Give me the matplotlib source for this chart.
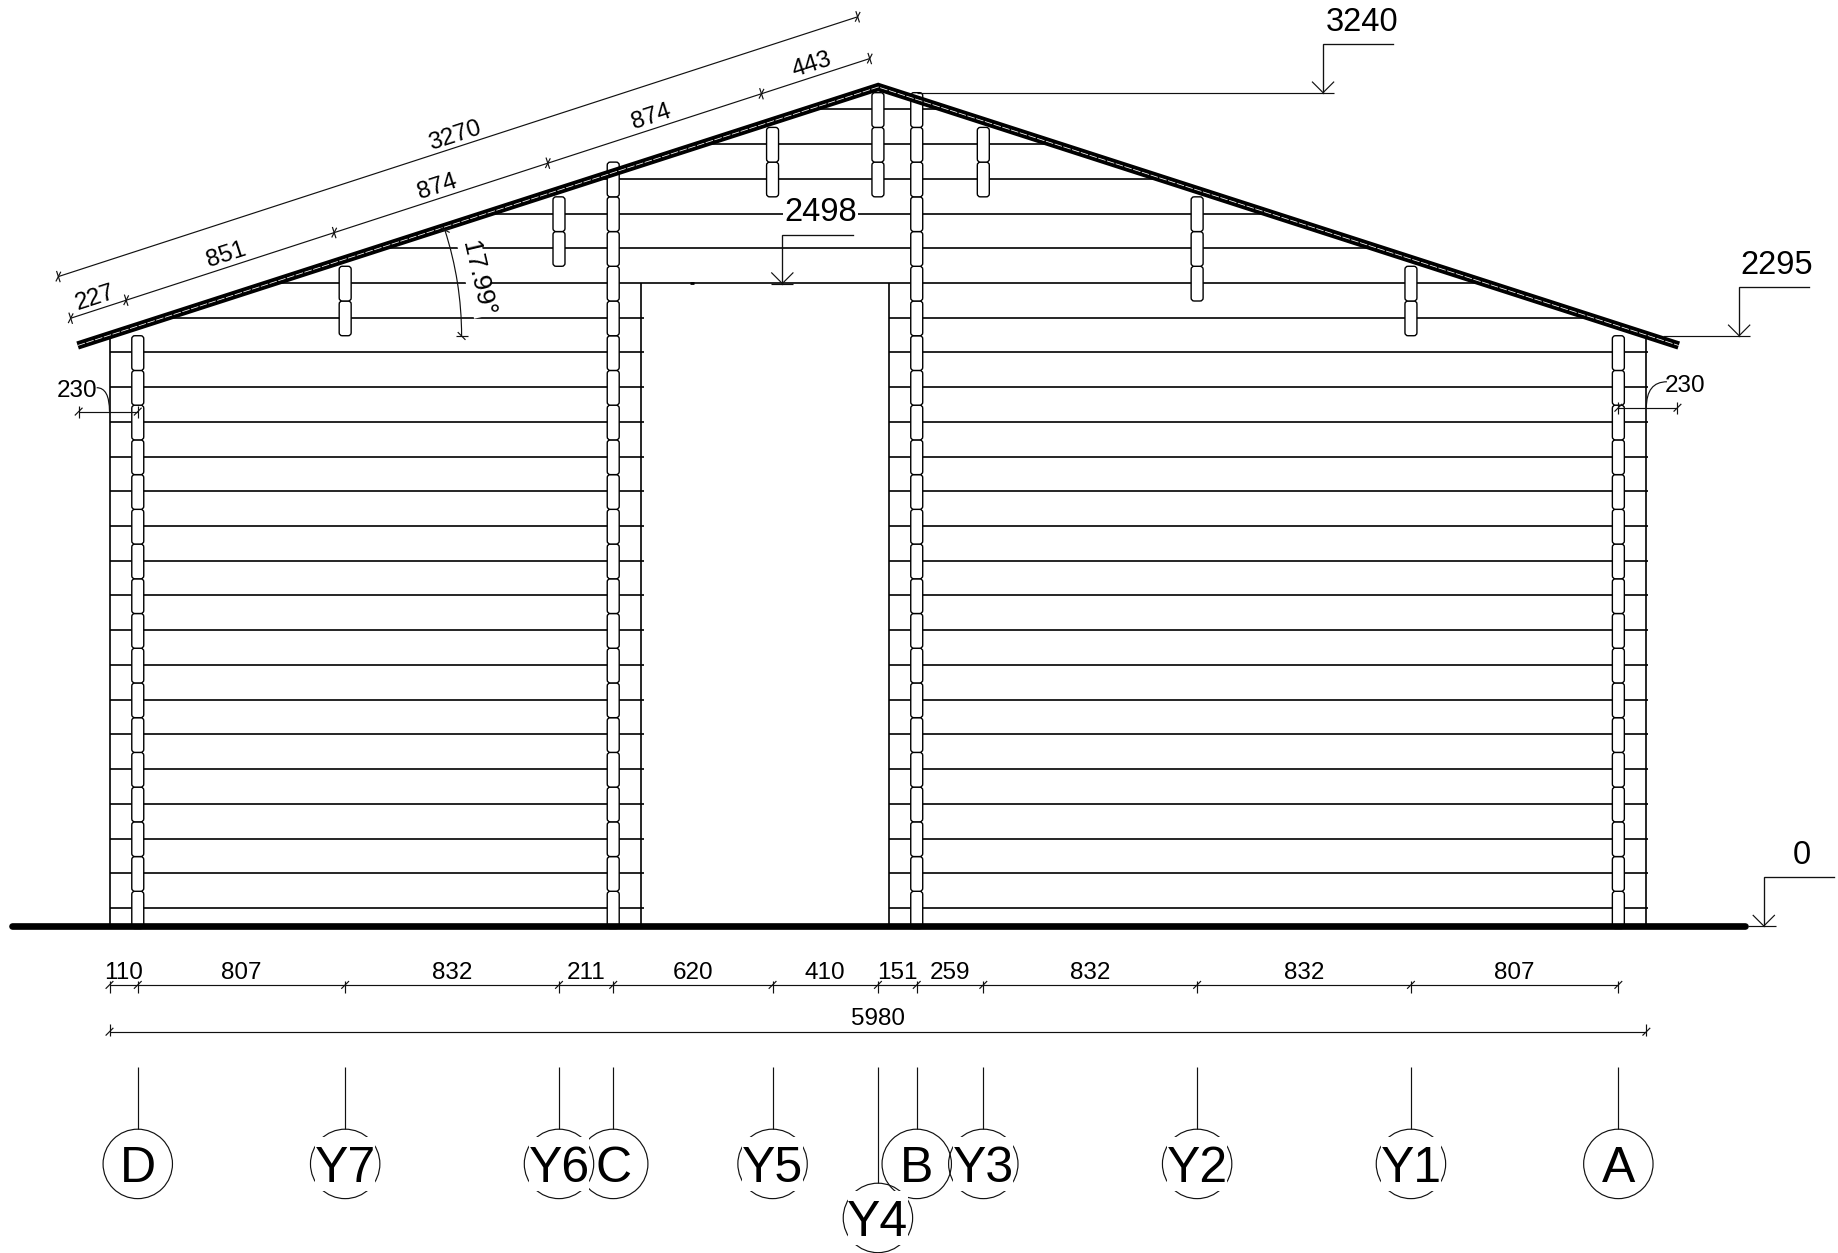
import numpy as np
import matplotlib
matplotlib.use("Agg")
import matplotlib.pyplot as plt
from matplotlib.patches import Arc, Circle, FancyBboxPatch, PathPatch, Polygon, Rectangle
from matplotlib.path import Path

# everything below is in drawing millimetres
SCALE_X = 0.2570  # px per mm
SCALE_Y = 0.2572
ORIGIN_X = 109.5
ORIGIN_Y = 926

# bottom dimension chain, left to right
GRID_DIMS = [110, 807, 832, 211, 620, 410, 151, 259, 832, 832, 807]
GRID_NAMES = ["D", "Y7", "Y6", "C", "Y5", "Y4", "B", "Y3", "Y2", "Y1", "A"]
OVERALL_WIDTH = 5980

# rake dimension chain
RAKE_DIMS = [227, 851, 874, 874, 443]
RAKE_TOTAL = 3270
RAKE_ANGLE = 17.99

# log course lines
COURSE_Y = [70, 205, 340, 475, 610, 745, 880, 1015, 1150, 1285, 1420, 1555,
            1690, 1825, 1960, 2095, 2230, 2365, 2500, 2635, 2770, 2905, 3040, 3175]

# log ends per grid line: (bottom, top)
LOG_STACKS = {
    "D": (0, 2295), "A": (0, 2295), "C": (0, 2970), "B": (0, 3240),
    "Y7": (2295, 2565), "Y6": (2565, 2835), "Y5": (2835, 3105), "Y4": (2835, 3240),
    "Y3": (2835, 3105), "Y2": (2430, 2835), "Y1": (2295, 2565),
}
LOG_BREAKS = [135, 270, 405, 540, 675, 810, 945, 1080, 1215, 1350, 1485, 1620,
              1755, 1890, 2025, 2160, 2295, 2430, 2565, 2700, 2835, 2970, 3105, 3240]

# roof centre line
ROOF_X = [-124, 2991, 6106]
ROOF_Y = [2257, 3262, 2257]

DOOR_LEFT = 2070
DOOR_RIGHT = 3033
DOOR_HEAD = 2498

# level marks: label, level, arrow x, line start, line end, top line end, text x
LEVELS = [
    ("3240", 3240, 4722, 3141, 4765, 4994, 4873),
    ("2498", 2498, 2618, 2575, 2661, 2892, 2767),
    ("2295", 2295, 6341, 6045, 6383, 6613, 6488),
    ("0", 0, 6437, 6375, 6483, 6710, 6585),
]

DIM_FONT = ["Liberation Sans Narrow", "Liberation Sans"]
LABEL_FONT = ["Liberation Sans"]

fig = plt.figure(figsize=(18.38, 12.53), dpi=100)
ax = fig.add_axes([0, 0, 1, 1])
ax.set_xlim(-ORIGIN_X / SCALE_X, (1838 - ORIGIN_X) / SCALE_X)
ax.set_ylim((ORIGIN_Y - 1253) / SCALE_Y, ORIGIN_Y / SCALE_Y)
ax.axis("off")

grid_x = dict(zip(GRID_NAMES, np.cumsum(GRID_DIMS)))

THIN = dict(color="#111111", lw=0.85, solid_capstyle="butt", zorder=6)
WALL = dict(color="black", lw=1.2, solid_capstyle="butt", zorder=2)

# wall outline, used to cut course lines at the roof
outline = Polygon([(-15, 0), (-15, 2296), (ROOF_X[1], ROOF_Y[1]), (OVERALL_WIDTH + 15, 2296),
                   (OVERALL_WIDTH + 15, 0)], closed=True, transform=ax.transData)


def wall_line(xs, ys):
    line, = ax.plot(xs, ys, **WALL)
    line.set_clip_path(outline)


for y in COURSE_Y:
    if y < DOOR_HEAD:
        wall_line([0, DOOR_LEFT + 10], [y, y])
        wall_line([DOOR_RIGHT, OVERALL_WIDTH + 5], [y, y])
    else:
        wall_line([0, OVERALL_WIDTH], [y, y])

wall_line([0, 0], [0, 2600])
wall_line([OVERALL_WIDTH, OVERALL_WIDTH], [0, 2600])
ax.plot([DOOR_LEFT, DOOR_LEFT], [0, 2500], **WALL)
ax.plot([DOOR_RIGHT, DOOR_RIGHT], [0, 2500], **WALL)
ax.plot([2258, 2274], [2500, 2500], color="black", lw=2, solid_capstyle="butt", zorder=3)

# log ends
LOG_WIDTH = 46.6
for name, (bottom, top) in LOG_STACKS.items():
    x = grid_x[name]
    breaks = [b for b in LOG_BREAKS if bottom < b < top]
    edges = [bottom if bottom > 0 else -10] + breaks + [top]
    for y0, y1 in zip(edges[:-1], edges[1:]):
        ax.add_patch(FancyBboxPatch((x - LOG_WIDTH / 2, y0), LOG_WIDTH, y1 - y0,
                                    boxstyle="round,pad=0,rounding_size=12",
                                    fc="white", ec="black", lw=1.0, zorder=3))

# roof and ground
ax.plot(ROOF_X, ROOF_Y, color="black", lw=6, solid_capstyle="butt",
        solid_joinstyle="miter", zorder=4)
ax.plot(ROOF_X, ROOF_Y, color="white", lw=0.55, ls=(0, (10, 2)), zorder=5)
ax.plot([-381, 6364], [0, 0], color="black", lw=4.8, solid_capstyle="round", zorder=4)


def dim_text(x, y, s, rotation=0):
    ax.text(x, y, s, fontsize=17.5, family=DIM_FONT, ha="center", va="center_baseline",
            rotation=rotation, rotation_mode="anchor", color="black", zorder=7)


def tick(x, y, angle=0, above=23, below=23):
    t = np.radians(angle)
    d = np.array([np.cos(t), np.sin(t)])
    n = np.array([-np.sin(t), np.cos(t)])
    p = np.array([x, y])
    a, b = p + n * above, p - n * below
    ax.plot([a[0], b[0]], [a[1], b[1]], **THIN)
    a, b = p + (d + n) * 15, p - (d + n) * 15
    ax.plot([a[0], b[0]], [a[1], b[1]], **THIN)


# bottom chains
ROW_1 = -229
ROW_2 = -411
LABEL_GAP = 56
stops = np.concatenate([[0], np.cumsum(GRID_DIMS)])
ax.plot([stops[0], stops[-1]], [ROW_1, ROW_1], **THIN)
for x in stops:
    tick(x, ROW_1, above=16, below=31)
for i, d in enumerate(GRID_DIMS):
    dim_text((stops[i] + stops[i + 1]) / 2, ROW_1 + LABEL_GAP, str(d))

ax.plot([0, OVERALL_WIDTH], [ROW_2, ROW_2], **THIN)
tick(0, ROW_2, above=31, below=16)
tick(OVERALL_WIDTH, ROW_2, above=31, below=16)
dim_text(OVERALL_WIDTH / 2, ROW_2 + 58, str(OVERALL_WIDTH))

# rake chains
t = np.radians(RAKE_ANGLE)
along = np.array([np.cos(t), np.sin(t)])
normal = np.array([-np.sin(t), np.cos(t)])

start = np.array([-151, 2363])
run = np.concatenate([[0], np.cumsum(RAKE_DIMS)])
a, b = start, start + along * run[-1]
ax.plot([a[0], b[0]], [a[1], b[1]], **THIN)
for r in run:
    p = start + along * r
    tick(p[0], p[1], RAKE_ANGLE)
for i, d in enumerate(RAKE_DIMS):
    p = start + along * (run[i] + run[i + 1]) / 2 + normal * 55
    dim_text(p[0], p[1], str(d), rotation=RAKE_ANGLE)

start = np.array([-199, 2525])
a, b = start, start + along * RAKE_TOTAL
ax.plot([a[0], b[0]], [a[1], b[1]], **THIN)
tick(a[0], a[1], RAKE_ANGLE)
tick(b[0], b[1], RAKE_ANGLE)
p = start + along * RAKE_TOTAL / 2 + normal * 52
dim_text(p[0], p[1], str(RAKE_TOTAL), rotation=RAKE_ANGLE)

# overhang dimensions
ax.plot([-120, 110], [2000, 2000], **THIN)
tick(-120, 2000)
tick(110, 2000)
dim_text(-128, 2088, "230")
ax.add_patch(PathPatch(Path([(-50, 2093), (0, 2093), (0, 2000)],
                            [Path.MOVETO, Path.CURVE3, Path.CURVE3]),
                       fc="none", ec="#111111", lw=0.85, zorder=6))
ax.plot([5871, 6101], [2015, 2015], **THIN)
tick(5871, 2015)
tick(6101, 2015)
dim_text(6132, 2111, "230")
ax.add_patch(PathPatch(Path([(6060, 2116), (5980, 2116), (5980, 2015)],
                            [Path.MOVETO, Path.CURVE3, Path.CURVE3]),
                       fc="none", ec="#111111", lw=0.85, zorder=6))

# roof pitch
ax.add_patch(Arc((36, 2294), 2 * 1334, 2 * 1334, theta1=0, theta2=RAKE_ANGLE,
                 ec="#111111", lw=0.85, zorder=6))
tick(36 + 1334, 2294, 90)
p = np.array([36, 2294]) + 1334 * along
tick(p[0], p[1], 90 + RAKE_ANGLE)
ax.text(1440, 2519, "17.99°", fontsize=19, family=DIM_FONT[1], ha="center",
        va="center_baseline", rotation=-77, rotation_mode="anchor", color="black", zorder=7,
        bbox=dict(fc="white", ec="none", pad=0))

# level marks
for label, y, arrow_x, line_a, line_b, top_b, text_x in LEVELS:
    top = y + 190
    ax.plot([line_a, line_b], [y, y], **THIN)
    ax.plot([arrow_x, arrow_x, top_b], [y, top, top], color="#111111", lw=0.95,
            solid_joinstyle="miter", zorder=6)
    ax.plot([arrow_x - 43, arrow_x, arrow_x + 43], [y + 43, y, y + 43], **THIN)
    box = dict(fc="white", ec="none", pad=1) if label == "2498" else None
    ax.text(text_x, y + 288, label, fontsize=23.5, family=LABEL_FONT, ha="center",
            va="center_baseline", color="black", zorder=7, bbox=box)

# grid bubbles
BUBBLE_R = 135
BUBBLE_Y = -925
BUBBLE_Y_LOW = -1135
LEADER_TOP = -549
for name in GRID_NAMES:
    x = grid_x[name]
    cy = BUBBLE_Y_LOW if name == "Y4" else BUBBLE_Y
    ax.plot([x, x], [LEADER_TOP, cy + BUBBLE_R], **THIN)
    ax.add_patch(Circle((x, cy), BUBBLE_R, fc="none", ec="#111111", lw=0.85, zorder=6))
# the two letter names cut the circle behind them
for name in GRID_NAMES:
    x = grid_x[name]
    cy = BUBBLE_Y_LOW if name == "Y4" else BUBBLE_Y
    if name.startswith("Y"):
        ax.add_patch(Rectangle((x - 117, cy - 105), 234, 210, fc="white", ec="none", zorder=6.5))
    ax.text(x, cy, name, fontsize=36, family=LABEL_FONT, ha="center",
            va="center_baseline", color="black", zorder=7)

fig.savefig("out.png", dpi=100)
